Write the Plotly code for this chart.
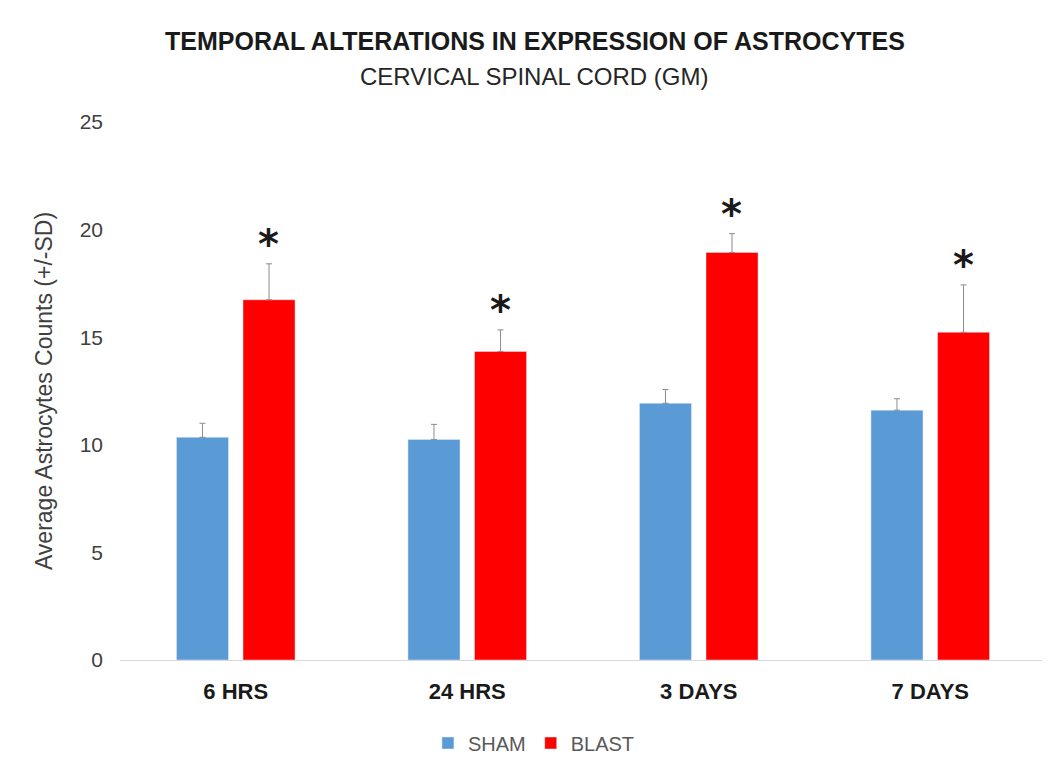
import plotly.graph_objects as go

categories = ["6 HRS", "24 HRS", "3 DAYS", "7 DAYS"]
sham_mean = [10.35, 10.25, 11.93, 11.61]
sham_sd = [0.65, 0.70, 0.64, 0.53]
blast_mean = [16.74, 14.34, 18.94, 15.23]
blast_sd = [1.67, 1.00, 0.87, 2.20]
significance = ["*", "*", "*", "*"]

FONT = "Liberation Sans, Arial, sans-serif"
err_style = dict(type="data", symmetric=False, arrayminus=[0] * 4, color="#8c8c8c", thickness=1, width=3)

fig = go.Figure()
fig.add_trace(go.Bar(
    name="SHAM", x=categories, y=sham_mean, marker_color="#5b9bd5",
    error_y=dict(array=sham_sd, **err_style),
))
fig.add_trace(go.Bar(
    name="BLAST", x=categories, y=blast_mean, marker_color="#ff0000",
    error_y=dict(array=blast_sd, **err_style),
))

for c, m, s, t in zip(categories, blast_mean, blast_sd, significance):
    fig.add_annotation(x=c, y=m + s, text=t, showarrow=False, xshift=33,
                       yanchor="bottom", yshift=-5,
                       font=dict(family="DejaVu Sans", size=40, color="#1a1a1a", weight="bold"))


# paper y from a target pixel row of the reference (plot spans pixel rows 122..660)
def py(pix):
    return (660 - pix) / 538


fig.add_annotation(xref="paper", yref="paper", x=0.448, y=py(41), yanchor="middle",
                   text="<b>TEMPORAL ALTERATIONS IN EXPRESSION OF ASTROCYTES</b>", showarrow=False,
                   font=dict(family=FONT, size=25, color="#1a1a1a"))
fig.add_annotation(xref="paper", yref="paper", x=0.448, y=py(76), yanchor="middle",
                   text="CERVICAL SPINAL CORD (GM)", showarrow=False,
                   font=dict(family=FONT, size=24, color="#262626"))

fig.update_layout(
    width=1050, height=768,
    margin=dict(l=112, r=12, t=114, b=116, autoexpand=False),
    paper_bgcolor="white", plot_bgcolor="white",
    barmode="group", bargap=0.425, bargroupgap=0.218,
    font=dict(family=FONT, color="#404040"),
    xaxis=dict(
        showgrid=False, showline=True, linecolor="#d9d9d9", linewidth=1,
        ticks="", ticklabelstandoff=12,
        tickfont=dict(family=FONT, size=22, color="#1a1a1a", weight="bold"),
    ),
    yaxis=dict(
        range=[0, 25], dtick=5, showgrid=False, showline=False, zeroline=False,
        ticks="", ticklabelstandoff=16,
        tickfont=dict(family=FONT, size=21, color="#404040"),
        title=dict(text="Average Astrocytes Counts (+/-SD)", standoff=20,
                   font=dict(family=FONT, size=23, color="#404040")),
    ),
    legend=dict(
        orientation="h", x=0.447, xanchor="center", y=py(743), yanchor="middle",
        font=dict(family=FONT, size=20, color="#595959"),
        itemwidth=30, traceorder="normal",
    ),
    showlegend=True,
)

fig.write_html("out.html")
